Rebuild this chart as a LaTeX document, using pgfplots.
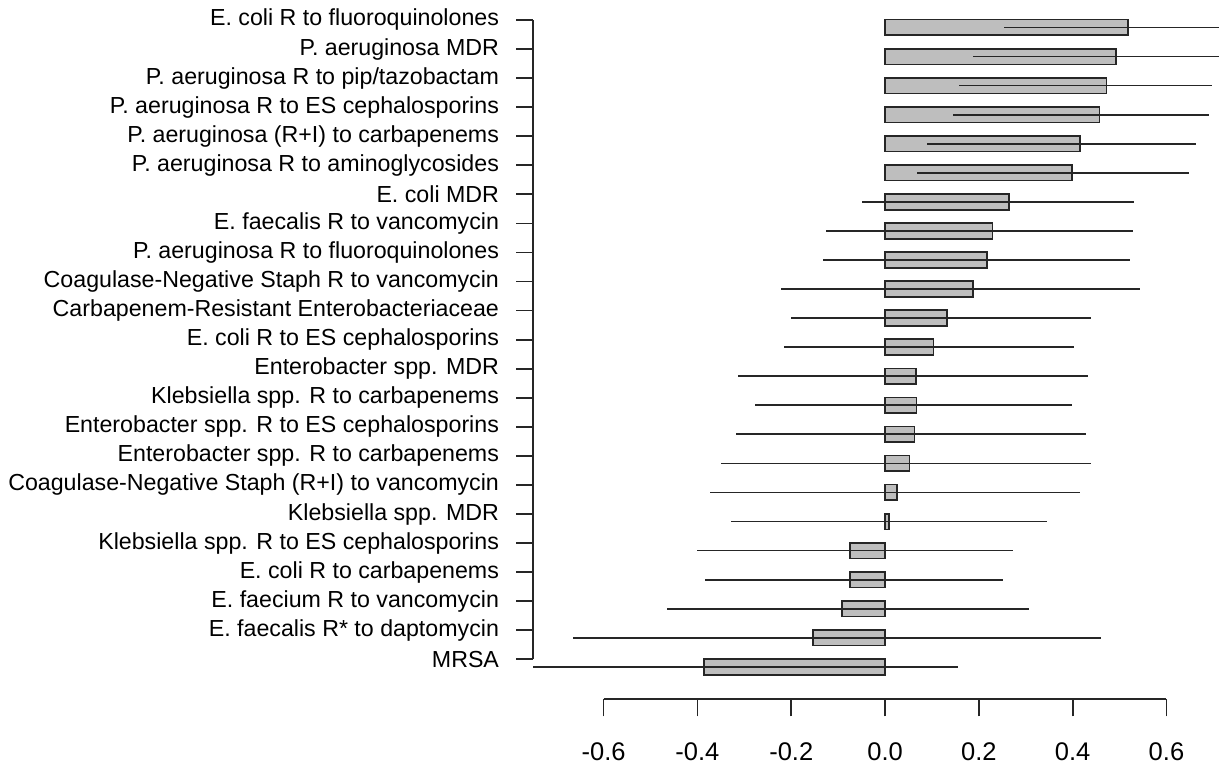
\documentclass[border=0pt]{standalone}
\usepackage{pgfplots}
\pgfplotsset{compat=1.18}
\usepackage{pgfplotstable}
\usepackage{fontspec}
\setmainfont{Liberation Sans}

\definecolor{barfill}{RGB}{190,190,190}

% y = row (MRSA at 0), v = bar value, lo/hi = interval ends
\pgfplotstableread{
y  v      lo      hi
0  -0.386 -0.750  0.155
1  -0.154 -0.666  0.460
2  -0.092 -0.464  0.306
3  -0.074 -0.383  0.251
4  -0.075 -0.402  0.273
5   0.009 -0.328  0.346
6   0.026 -0.373  0.416
7   0.052 -0.350  0.439
8   0.063 -0.318  0.428
9   0.067 -0.277  0.399
10  0.066 -0.314  0.432
11  0.103 -0.215  0.402
12  0.132 -0.200  0.439
13  0.188 -0.222  0.543
14  0.217 -0.133  0.523
15  0.229 -0.126  0.528
16  0.265 -0.050  0.531
17  0.398  0.069  0.649
18  0.416  0.090  0.663
19  0.457  0.144  0.690
20  0.472  0.158  0.697
21  0.493  0.188  0.800
22  0.518  0.253  0.800
}\ratios

\begin{document}
\begin{tikzpicture}
\begin{axis}[
    x=234.5pt, y=14.53pt,
    xmin=-0.7505, xmax=0.712,
    ymin=-1.118, ymax=22.945,
    axis line style={draw=none},
    clip mode=individual,
    tick align=outside,
    major tick length=8.5pt,
    tick style={black!85, line width=0.85pt},
    xtick pos=bottom, ytick pos=left,
    xtick={-0.6,-0.4,-0.2,0,0.2,0.4,0.6},
    xticklabels={-0.6,-0.4,-0.2,0.0,0.2,0.4,0.6},
    xticklabel style={font=\fontsize{12.75}{14}\selectfont, yshift=-9.5pt},
    ytick={0.258,1.258,2.258,3.258,4.258,5.258,6.258,7.258,8.258,9.258,10.258,11.258,
           12.258,13.258,14.258,15.258,16.258,17.258,18.258,19.258,20.258,21.258,22.258},
    yticklabels={MRSA,
      E. faecalis R* to daptomycin,
      E. faecium R to vancomycin,
      E. coli R to carbapenems,
      Klebsiella spp. R to ES cephalosporins,
      Klebsiella spp. MDR,
      Coagulase-Negative Staph (R+I) to vancomycin,
      Enterobacter spp. R to carbapenems,
      Enterobacter spp. R to ES cephalosporins,
      Klebsiella spp. R to carbapenems,
      Enterobacter spp. MDR,
      E. coli R to ES cephalosporins,
      Carbapenem-Resistant Enterobacteriaceae,
      Coagulase-Negative Staph R to vancomycin,
      P. aeruginosa R to fluoroquinolones,
      E. faecalis R to vancomycin,
      E. coli MDR,
      P. aeruginosa R to aminoglycosides,
      P. aeruginosa (R+I) to carbapenems,
      P. aeruginosa R to ES cephalosporins,
      P. aeruginosa R to pip/tazobactam,
      P. aeruginosa MDR,
      E. coli R to fluoroquinolones},
    yticklabel style={font=\fontsize{11.6}{13}\selectfont, xshift=-5pt},
]
\addplot[xbar, bar width=0.54, fill=barfill, draw=black!85, line width=0.85pt]
    table[x=v, y=y] {\ratios};
\addplot[draw=none, mark=none, forget plot,
    error bars/.cd, x dir=both, x explicit, error mark=none,
    error bar style={draw=black!85, line width=0.85pt}]
    table[x expr=(\thisrow{lo}+\thisrow{hi})/2, y=y,
          x error expr=(\thisrow{hi}-\thisrow{lo})/2] {\ratios};
\draw[black!85, line width=0.85pt] (axis cs:-0.6,-1.118) -- (axis cs:0.6,-1.118);
\draw[black!85, line width=0.85pt] (axis cs:-0.7505,0.258) -- (axis cs:-0.7505,22.258);
\coordinate (bl) at (axis cs:-1.887,-3.414);
\coordinate (tr) at (axis cs:0.712,22.945);
\end{axis}
\pgfresetboundingbox
\path[use as bounding box] (bl) rectangle (tr);
\end{tikzpicture}
\end{document}
